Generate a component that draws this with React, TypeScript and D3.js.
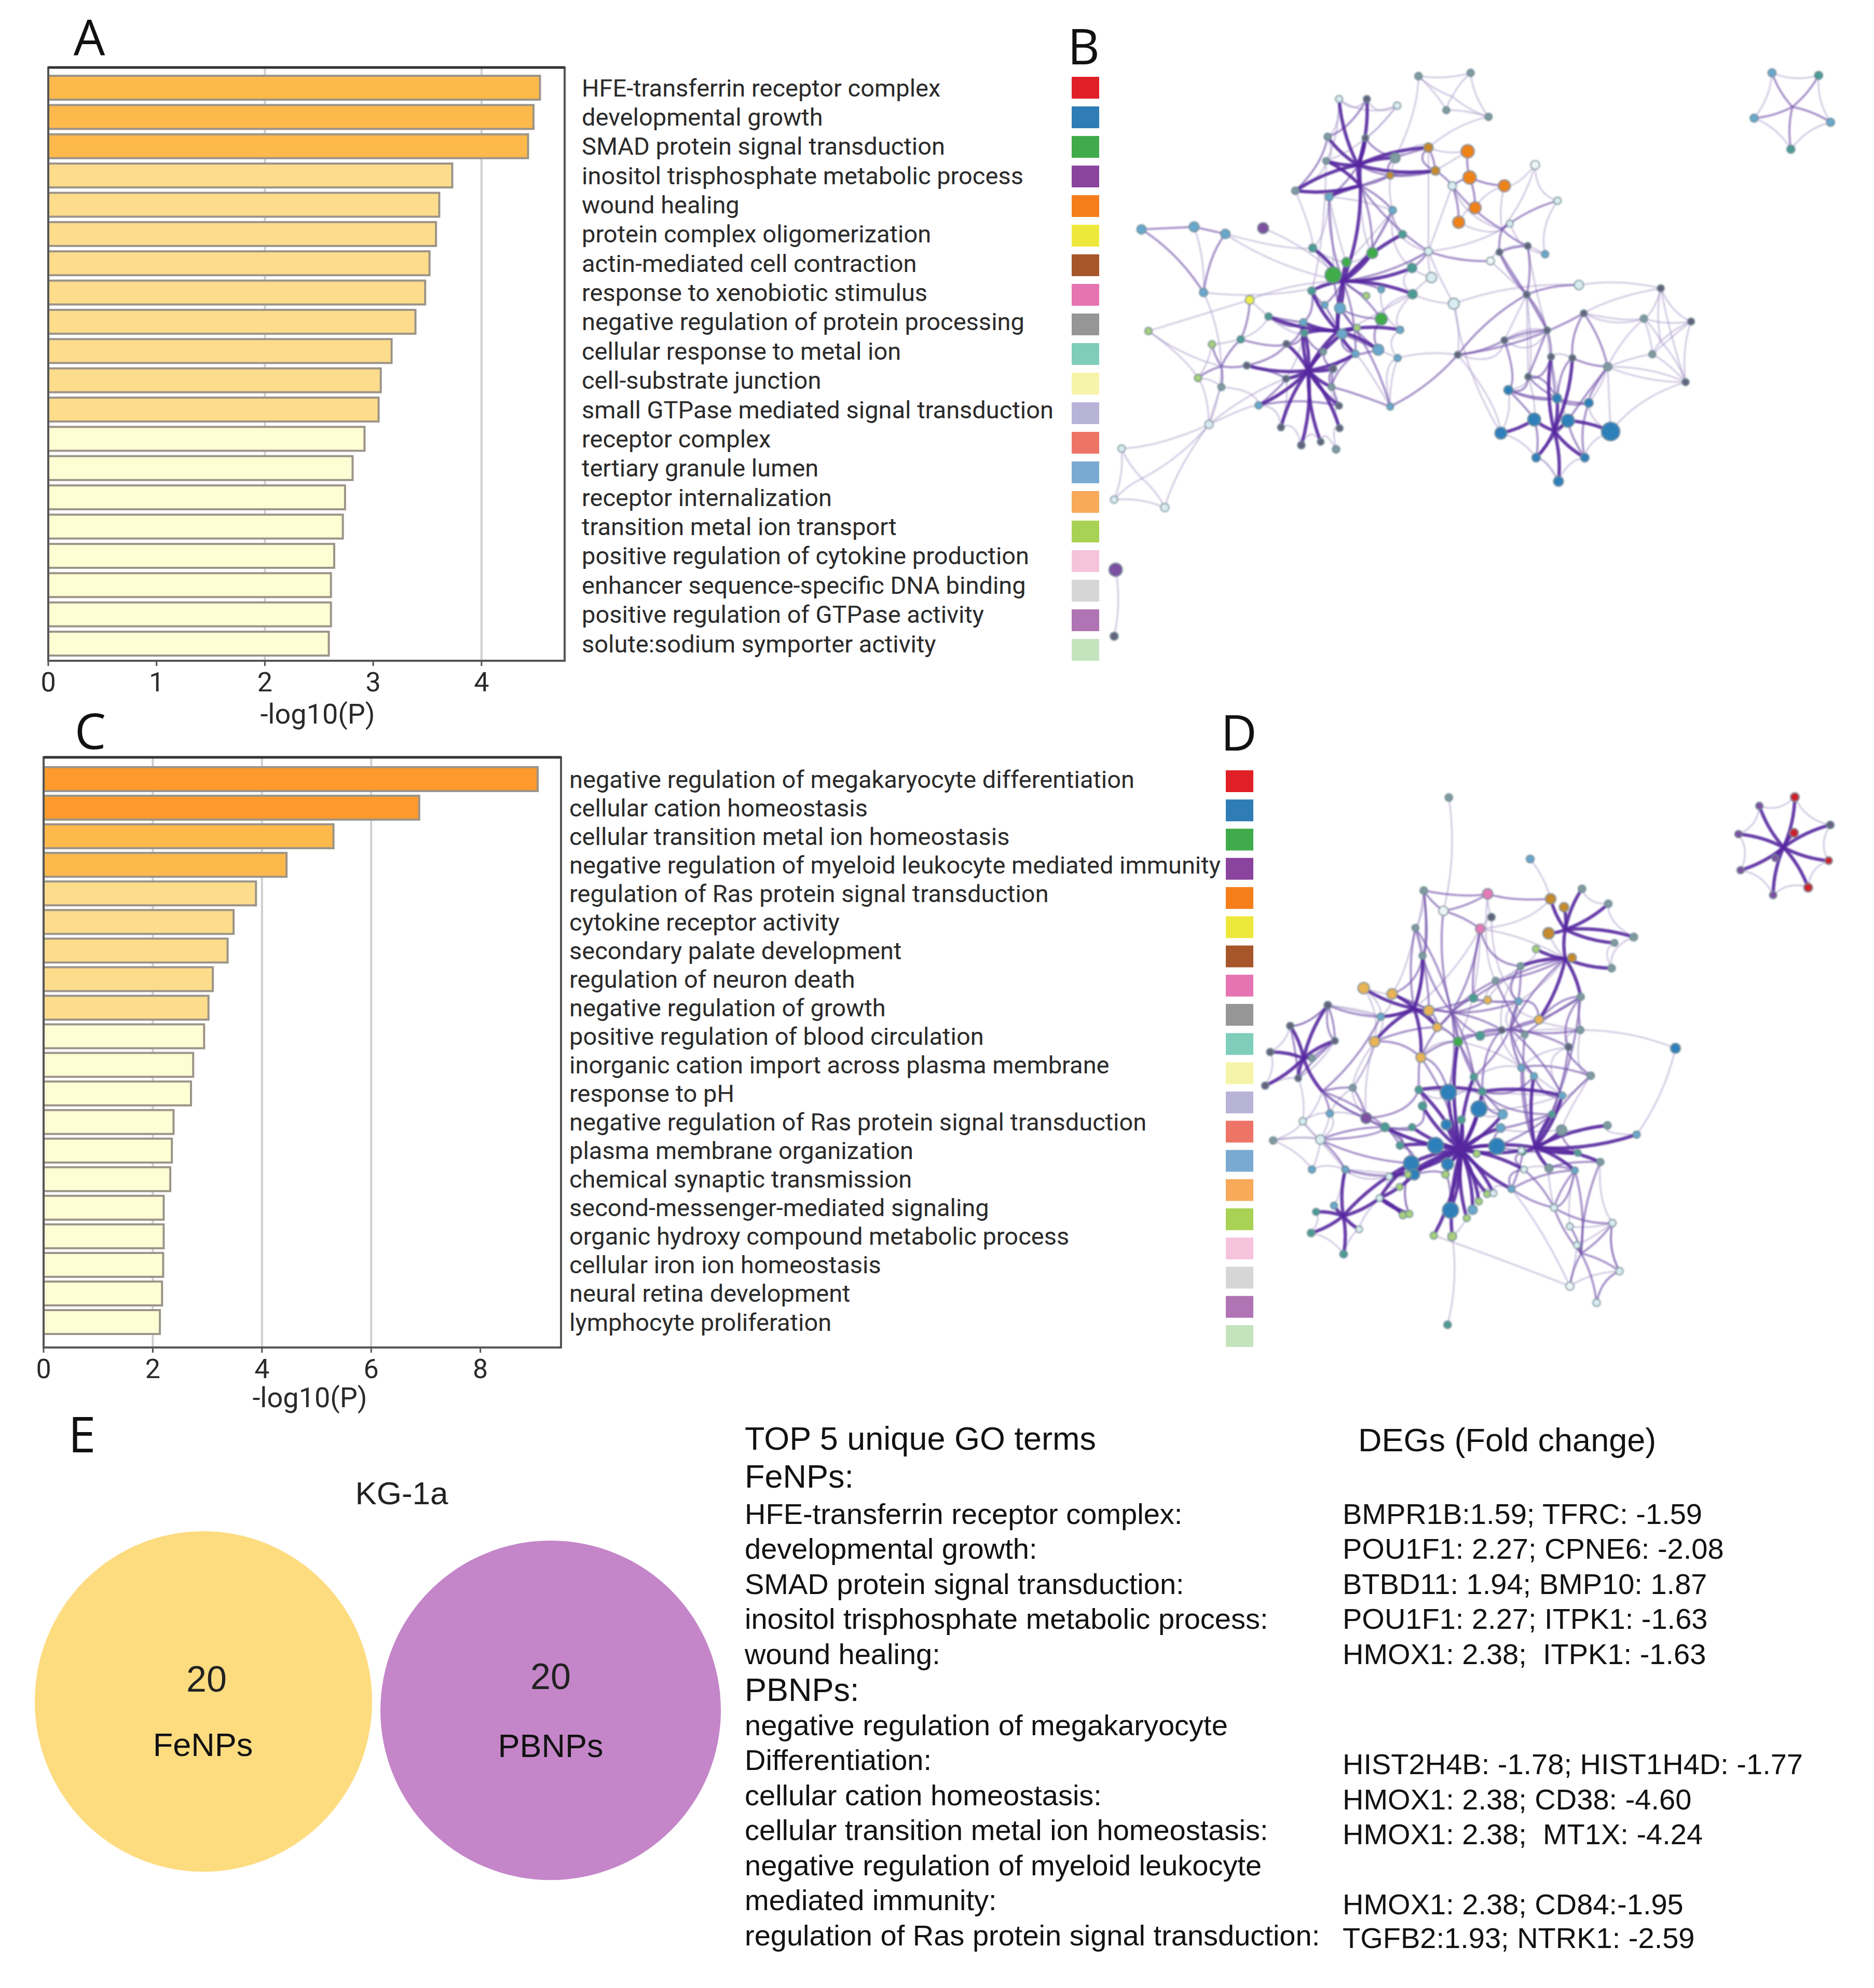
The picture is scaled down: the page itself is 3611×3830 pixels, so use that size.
import React from 'react';
import * as d3 from 'd3';

// panel A
const termsA = ['HFE-transferrin receptor complex', 'developmental growth', 'SMAD protein signal transduction', 'inositol trisphosphate metabolic process', 'wound healing', 'protein complex oligomerization', 'actin-mediated cell contraction', 'response to xenobiotic stimulus', 'negative regulation of protein processing', 'cellular response to metal ion', 'cell-substrate junction', 'small GTPase mediated signal transduction', 'receptor complex', 'tertiary granule lumen', 'receptor internalization', 'transition metal ion transport', 'positive regulation of cytokine production', 'enhancer sequence-specific DNA binding', 'positive regulation of GTPase activity', 'solute:sodium symporter activity'];
const valuesA = [4.54, 4.48, 4.43, 3.73, 3.61, 3.58, 3.52, 3.48, 3.39, 3.17, 3.07, 3.05, 2.92, 2.81, 2.74, 2.72, 2.64, 2.61, 2.61, 2.59];
const ticksA = [0, 1, 2, 3, 4];
const gridA = [2, 4];

// panel C
const termsC = ['negative regulation of megakaryocyte differentiation', 'cellular cation homeostasis', 'cellular transition metal ion homeostasis', 'negative regulation of myeloid leukocyte mediated immunity', 'regulation of Ras protein signal transduction', 'cytokine receptor activity', 'secondary palate development', 'regulation of neuron death', 'negative regulation of growth', 'positive regulation of blood circulation', 'inorganic cation import across plasma membrane', 'response to pH', 'negative regulation of Ras protein signal transduction', 'plasma membrane organization', 'chemical synaptic transmission', 'second-messenger-mediated signaling', 'organic hydroxy compound metabolic process', 'cellular iron ion homeostasis', 'neural retina development', 'lymphocyte proliferation'];
const valuesC = [9.05, 6.88, 5.31, 4.45, 3.89, 3.48, 3.37, 3.1, 3.02, 2.94, 2.74, 2.7, 2.38, 2.35, 2.32, 2.2, 2.2, 2.19, 2.17, 2.13];
const ticksC = [0, 2, 4, 6, 8];
const gridC = [2, 4, 6];

const barColor = d3.scaleThreshold<number, string>().domain([3, 4, 6]).range(['#fefed4', '#fddc8c', '#fdb94b', '#fd9a2d']);
const legendColors = ['#e01f26', '#2f7cb6', '#3fab4a', '#8a449e', '#f57e1a', '#eee83c', '#a6562a', '#e673b2', '#969696', '#7fcdbb', '#f6f4a8', '#b8b4d8', '#ef7468', '#7aaad2', '#f8a95a', '#a8d254', '#f6c3dc', '#d6d6d6', '#b074b4', '#c4e4bd'];

// node colours of the two networks
const nc: Record<string, string> = {
  r: '#c8202f', b: '#2f80bb', lb: '#69a8cc', g: '#3fab4a', p: '#7d4fa0', o: '#ee8312', ol: '#c58a2c', go: '#e8b457', y: '#eef04a', pk: '#e47ab8',
  d: '#63637e', t: '#4b9c94', pl: '#d9ecf2', w: '#eef6f6', gy: '#7f9aa0', lg: '#a8d07c',
};

type NodeRow = [string, number, number, number, string];
// id, layout x, layout y, size (0 = junction only), colour key
const nodesB: NodeRow[] = [
  ['p0', 1415, 195, 0, 'd'], ['p1', 1374, 113, 1.5, 'lb'], ['p2', 1468, 119, 1.5, 't'], ['p3', 1492, 232, 1.5, 'lb'], ['p4', 1412, 297, 1.5, 't'], ['p5', 1338, 222, 1.5, 'lb'],
  ['q1', 52, 1310, 3.5, 'p'], ['q2', 49, 1470, 1.5, 'd'],
  ['s0', 105, 1090, 0, 'd'], ['s1', 64, 1018, 1.2, 'pl'], ['s2', 49, 1141, 1.2, 'pl'], ['s3', 151, 1160, 1.6, 'pl'], ['s4', 240, 960, 1.6, 'pl'],
  ['t0', 540, 335, 0, 'd'], ['t00', 545, 385, 0, 'd'], ['t1', 502, 176, 1.1, 'pl'], ['t2', 558, 176, 1.1, 'd'], ['t3', 619, 192, 1.2, 'pl'], ['t4', 479, 267, 1.2, 'gy'], ['t5', 555, 270, 1, 'd'], ['t6', 476, 325, 1, 'gy'], ['t7', 414, 397, 1.3, 'gy'], ['t8', 482, 412, 1.4, 'lb'], ['t9', 610, 444, 1.3, 'lb'], ['t10', 615, 318, 2.2, 'gy'], ['t11', 605, 360, 1.2, 'ol'],
  ['u0', 730, 170, 0, 'd'], ['u1', 662, 121, 1.3, 'gy'], ['u2', 767, 113, 1.2, 'gy'], ['u3', 803, 219, 1.2, 'gy'], ['u4', 718, 203, 1.1, 'gy'],
  ['a1', 682, 293, 2, 'ol'], ['a2', 696, 349, 1.8, 'ol'],
  ['o1', 761, 302, 3.5, 'o'], ['o2', 765, 365, 3.5, 'o'], ['o3', 835, 385, 3, 'o'], ['o4', 776, 438, 3, 'o'], ['o5', 743, 473, 3, 'o'], ['o6', 730, 385, 1.6, 'pl'],
  ['r0', 830, 490, 0, 'd'], ['r1', 897, 335, 1.8, 'w'], ['r2', 942, 421, 1.2, 'pl'], ['r3', 917, 550, 1.2, 'lb'], ['r4', 846, 476, 1, 'pl'], ['r5', 807, 566, 1.4, 'w'], ['r6', 825, 545, 1, 'd'], ['r7', 882, 530, 1, 'd'],
  ['l1', 104, 490, 2, 'lb'], ['l2', 210, 484, 2.2, 'lb'], ['l3', 273, 501, 2, 'lb'], ['l4', 229, 642, 1.6, 'lb'], ['n1', 349, 487, 2.6, 'p'],
  ['g0', 510, 615, 0, 'd'], ['g1', 490, 600, 4.6, 'g'], ['g2', 569, 547, 2.6, 'g'], ['g3', 517, 569, 2, 'g'], ['g4', 449, 535, 1.5, 't'], ['g5', 630, 502, 1.4, 't'], ['g6', 649, 583, 2, 't'], ['g7', 650, 646, 2, 't'], ['g8', 587, 706, 3, 'g'], ['g9', 447, 638, 1.4, 't'], ['g10', 557, 650, 1, 'lg'],
  ['m0', 440, 830, 0, 'd'], ['m00', 500, 735, 0, 'd'], ['w0', 265, 820, 0, 'd'],
  ['m1', 504, 680, 2.6, 'lb'], ['m2', 508, 742, 2.2, 'lb'], ['m3', 581, 780, 2.6, 'lb'], ['m4', 430, 714, 1.2, 'lb'], ['m5', 360, 700, 1.2, 't'], ['y1', 322, 660, 1.8, 'y'], ['m6', 304, 755, 1.2, 't'], ['m7', 246, 767, 1.2, 'lg'], ['m8', 118, 735, 1.2, 'lg'], ['m9', 218, 848, 1.2, 'lg'], ['m10', 265, 870, 1.1, 'gy'], ['m11', 316, 818, 1.1, 'd'], ['m12', 396, 766, 1, 'd'], ['m13', 432, 740, 1.1, 't'], ['m14', 470, 785, 1, 'gy'], ['m15', 490, 826, 1.2, 'd'], ['m16', 395, 850, 1, 'd'], ['m17', 487, 870, 1, 'gy'], ['m18', 502, 915, 1, 'd'], ['m19', 503, 969, 1.1, 'd'], ['m20', 496, 1020, 1.3, 'gy'], ['m21', 465, 1002, 1, 'd'], ['m22', 426, 1010, 1.3, 'd'], ['m23', 385, 967, 1.1, 'd'], ['m24', 340, 914, 1.2, 'lb'], ['m25', 605, 917, 1.1, 'lb'], ['m26', 620, 800, 1.1, 'lb'], ['m27', 535, 790, 1.2, 'lb'], ['m28', 625, 732, 1.2, 'lb'], ['m29', 538, 727, 1, 'lg'], ['m30', 473, 672, 1, 'lb'], ['m31', 587, 635, 1, 'lb'],
  ['k1', 682, 543, 1.5, 'pl'], ['k2', 688, 606, 2.4, 'pl'], ['k3', 733, 669, 2.6, 'pl'],
  ['h1', 985, 624, 2, 'pl'], ['h2', 880, 647, 1, 'd'], ['h3', 995, 692, 1, 'd'], ['h4', 921, 733, 1, 'd'], ['h5', 835, 757, 1, 'd'], ['h6', 741, 792, 1, 'd'], ['h7', 929, 797, 1, 'd'], ['h8', 972, 800, 1, 'd'], ['h9', 883, 845, 1, 'd'], ['h10', 1043, 821, 1.6, 'gy'],
  ['h0', 1150, 760, 0, 'd'], ['h11', 1150, 632, 1.1, 'd'], ['h12', 1116, 705, 1.2, 'gy'], ['h13', 1211, 712, 1.1, 'd'], ['h14', 1133, 791, 1.1, 'gy'], ['h15', 1200, 858, 1.1, 'd'],
  ['b0', 935, 975, 0, 'd'], ['b1', 843, 877, 1.9, 'b'], ['b2', 941, 897, 1.9, 'b'], ['b3', 1005, 908, 1.8, 'b'], ['b4', 895, 948, 3.4, 'b'], ['b5', 963, 951, 3.4, 'b'], ['b6', 828, 981, 3, 'b'], ['b7', 1049, 977, 5.5, 'b'], ['b8', 899, 1040, 1.7, 'b'], ['b9', 997, 1040, 1.7, 'b'], ['b10', 944, 1097, 2.2, 'b'],
];
// hub, spokes, rim path, spoke weight, rim weight
type GroupRow = [string, string, string, number, number];
const groupsB: GroupRow[] = [
  ['p0', 'p1 p2 p3 p4 p5', 'p1 p2 p3 p4 p5 p1', 2, 1],
  ['q1', 'q2', '', 1, 1],
  ['s0', 's1 s2 s3 s4', 's1 s2 s3 s4 s1', 1, 1],
  ['t0', 't1 t2 t4 t5 t6 t7 t10 t00', 't1 t2 t3', 3, 1],
  ['t00', 't7 t8 t5 t6 g0', 't4 t6 t7 t8 t9 t10', 3, 1],
  ['t0', 'a1 a2', 't4 t1 t3 t5', 3, 1],
  ['t00', 't9 t11 g2 k1', 't9 g5', 2, 1],
  ['u0', 'u1 u3 u2 u4', 'u1 u2 u3 u4 u1', 1, 1],
  ['u0', '', 'u1 t10 a1 u3', 1, 1],
  ['o2', 'o1 o3 o4', 'o3 o4 o5', 2, 1],
  ['a2', 'o6 a1 t11', 'a1 o1 a2', 2, 1],
  ['o6', 'o5 r0 o2', '', 2, 1],
  ['r0', 'r2 r6 r4 r7', 'r1 r2 r3 r7 r6 r5', 2, 1],
  ['r0', 'o3 r1 k1', 'r1 o3', 1, 1],
  ['r6', 'r7 h2', 'r3 r7', 2, 1],
  ['l2', 'l4', 'l1 l2 l3 l4 l1', 1, 2],
  ['g0', 'l3 n1 l4 y1', '', 1, 1],
  ['g0', 'g1 g2 g3 g4 g5 g6 g7 g9 m1 m00', 'g4 g3 g2 g5', 3, 1],
  ['g0', 'g8 g10 m31 k1 m30', 'g6 g7 g8', 2, 1],
  ['m00', 'm1 m2 m4 m13 m28 m29 m3 m0 m5 m27 g9', 'm28 m26 m3', 3, 1],
  ['m0', 'm11 m12 m14 m15 m16 m18 m19 m21 m22 m23 m24 m17', 'm22 m21 m20 m19 m18 m17', 3, 1],
  ['m1', 'm25 m3', 'm27 m25 m26', 2, 1],
  ['w0', 'm7 m9 m10 m11 m6', 'm7 m9 m10', 2, 1],
  ['y1', 'm6', 'm8 y1 m5', 2, 1],
  ['w0', 'm8 l4 s4', 'm8 m9 s4 m10', 1, 1],
  ['m0', 'm24 s4', 's4 m24', 1, 1],
  ['h6', 'm25 h3 h2 h5', 'h5 h4', 2, 1],
  ['h2', 'h1 r7 h4', 'h9 h2', 2, 1],
  ['h4', 'h7 h5', 'h7 h8', 2, 1],
  ['h1', 'h11 k3', 'h11 h3', 1, 1],
  ['k2', 'g6 g7 k1', 'k1 k3', 1, 1],
  ['k3', 'h6 b6 g7', '', 1, 1],
  ['k1', 'g6 r5', '', 2, 1],
  ['b0', 'b4 b5 b8 b9 b10 b2 h7 h8', 'b8 b10 b9 b7 b3', 3, 1],
  ['b4', 'b6', 'b1 b6 b8 b10', 3, 1],
  ['b5', 'b7', '', 3, 1],
  ['b2', 'b1 b3 h9', 'b1 h9', 2, 1],
  ['h10', 'h8 h3', 'h10 b7 h15', 2, 1],
  ['h0', 'h11 h12 h13 h14 h15', 'h11 h13 h15 h14 h12 h11', 1, 1],
  ['h10', 'h12 h15 b3', 'h3 h12', 1, 1],
  ['m26', 'h6 m25', '', 1, 1],
  // cross links of the dense parts
  ['t0', '', 't5 t10 a1 a2 t11 t10', 1, 2],
  ['t0', '', 't2 t4 t7', 1, 2],
  ['t0', '', 't3 t5 t6 t1', 1, 1],
  ['t00', '', 't8 t00 t11 a2', 1, 2],
  ['g0', '', 't7 g4 g1 t8 g3 t9 g2 t00', 1, 1],
  ['g0', '', 't9 g6 k1 t9', 1, 1],
  ['g0', '', 't8 g4 l3', 1, 1],
  ['g0', '', 't6 g9', 1, 1],
  ['k1', '', 'a1 k1 o6 r0', 1, 1],
  ['m00', '', 'g1 m1 g8 m3 m2 m30 g9 m4 m5', 1, 2],
  ['m00', '', 'm31 m28 g7 m2', 1, 1],
  ['m0', '', 'm5 m4 m12 m13 m14 m2 m27 m15 m17', 1, 2],
  ['m0', '', 'm6 m12 m11 m16 m24 m18 m15 m14', 1, 2],
  ['m0', '', 'm7 m5 m13 m16 m23 m22', 1, 1],
  ['m0', '', 'm10 m24 m23', 1, 1],
  ['m0', '', 'm3 m27 m17 m25', 1, 2],
  ['m0', 'm2 m13 m4 m27', '', 3, 1],
  ['t0', 't8 t11', '', 2, 1],
  ['g0', 't8 t9 m27', '', 2, 1],
  ['h2', '', 'o5 r4 r7 h4 h5 h2 r5', 1, 1],
  ['h4', '', 'r6 h2 h4 h9 b2 h8 h3', 1, 2],
  ['b0', '', 'h5 b1 h9 h7 b2 b3 h10 b5', 1, 2],
  ['b0', '', 'b6 h6 h5 h4 h7 b5', 1, 1],
  ['b0', '', 'b3 b9 b5 b8 b4 b1 b2', 1, 2],
  ['h0', '', 'h3 h12 h13 h14 h10 h15 h11', 1, 1],
  ['b0', '', 'h2 h9 b4', 1, 1],
];

const nodesD: NodeRow[] = [
  ['e0', 1355, 292, 0, 'd'], ['e1', 1297, 192, 1.2, 'p'], ['e2', 1382, 171, 1.8, 'r'], ['e3', 1467, 238, 1.3, 'd'], ['e4', 1463, 324, 1.3, 'r'], ['e5', 1414, 389, 1.8, 'r'], ['e6', 1330, 407, 1.2, 'p'], ['e7', 1252, 347, 1.2, 'p'], ['e8', 1247, 260, 1.2, 'p'], ['e9', 1380, 257, 1.8, 'r'], ['e10', 1335, 318, 1, 'p'],
  ['d1', 553, 172, 1.3, 'gy'], ['d2', 748, 320, 1.4, 'lb'], ['d3', 493, 396, 1.3, 'gy'], ['d4', 646, 404, 2.4, 'pk'], ['d5', 540, 445, 2, 'w'], ['d6', 655, 460, 1.3, 'd'], ['d7', 628, 488, 2, 'pk'], ['d8', 473, 486, 1.1, 'gy'],
  ['x0', 832, 490, 0, 'd'], ['x1', 832, 560, 0, 'd'], ['x2', 797, 416, 2.4, 'ol'], ['x3', 829, 436, 2, 'ol'], ['x4', 872, 392, 1.3, 'gy'], ['x5', 935, 428, 1.3, 'gy'], ['x6', 996, 508, 1.4, 'gy'], ['x7', 950, 522, 1, 'gy'], ['x8', 943, 583, 1.3, 'gy'], ['x9', 792, 499, 2.8, 'ol'], ['x10', 762, 537, 1.2, 'lg'], ['x11', 848, 558, 1.8, 'ol'], ['x12', 869, 652, 1.2, 'gy'], ['x13', 725, 578, 1.1, 'gy'], ['x14', 665, 613, 1, 'gy'], ['x15', 490, 553, 1.1, 'gy'],
  ['c1', 349, 631, 2.8, 'go'], ['c2', 417, 645, 2.4, 'go'], ['c3', 390, 700, 1.2, 'lb'], ['c4', 505, 685, 2.4, 'go'], ['c5', 525, 725, 1.8, 'go'], ['c6', 375, 760, 2.4, 'go'], ['c7', 486, 798, 2.2, 'go'], ['c8', 575, 760, 2, 'g'], ['c9', 628, 746, 1.8, 't'], ['c10', 612, 655, 1.6, 't'], ['c11', 646, 660, 1.4, 'go'], ['c12', 720, 663, 1.1, 'lb'], ['c13', 769, 707, 1.8, 'go'], ['c14', 680, 732, 1, 'd'], ['c15', 735, 743, 1, 'gy'], ['c16', 868, 732, 1.2, 'gy'], ['c17', 840, 773, 1.2, 'd'], ['c18', 1096, 776, 2.2, 'b'], ['c19', 727, 823, 1.2, 'lb'], ['c00', 560, 690, 0, 'd'], ['c01', 700, 730, 0, 'd'], ['c02', 470, 680, 0, 'd'],
  ['v0', 760, 1015, 0, 'd'], ['v1', 893, 842, 1.3, 'gy'], ['v2', 757, 843, 1.1, 'lb'], ['v3', 825, 890, 1.1, 'lb'], ['v4', 800, 935, 1, 't'], ['v5', 823, 973, 2.4, 'gy'], ['v6', 933, 962, 1.3, 'gy'], ['v7', 1003, 984, 1.2, 'lb'], ['v8', 916, 1050, 1.2, 'gy'], ['v9', 862, 1028, 1, 't'], ['v10', 855, 1070, 1, 'lb'], ['v11', 793, 1065, 1.6, 'gy'], ['v12', 730, 1025, 1.2, 't'],
  ['f0', 205, 800, 0, 'd'], ['f00', 250, 880, 0, 'd'], ['f1', 263, 672, 1.3, 'd'], ['f2', 173, 722, 1.2, 'd'], ['f3', 280, 758, 1, 'd'], ['f4', 125, 785, 1.2, 'd'], ['f5', 225, 800, 1, 'gy'], ['f6', 192, 848, 1, 'd'], ['f7', 113, 866, 1.2, 'd'], ['f8', 323, 871, 1.1, 'gy'], ['f9', 355, 944, 2.6, 'p'], ['f10', 203, 952, 1.2, 'pl'], ['f11', 268, 933, 1.2, 'lb'], ['f12', 132, 998, 1.2, 'gy'], ['f13', 245, 996, 2, 'pl'], ['f14', 225, 1068, 1.2, 'lb'], ['f15', 400, 966, 1.8, 't'], ['f16', 436, 1010, 1.3, 't'], ['f17', 465, 966, 1.1, 't'], ['f18', 305, 1068, 1.1, 'lb'],
  ['z0', 582, 1020, 0, 'd'], ['z1', 552, 882, 4.6, 'b'], ['z2', 625, 922, 4.6, 'b'], ['z3', 547, 960, 2.4, 'b'], ['z4', 521, 1010, 4.6, 'b'], ['z5', 668, 1012, 4.6, 'b'], ['z6', 463, 1053, 4.4, 'b'], ['z7', 550, 1055, 3, 'b'], ['z8', 470, 1080, 2.6, 'b'], ['z9', 557, 1166, 4.6, 'b'], ['z10', 682, 935, 2, 'lb'], ['z11', 677, 968, 1.8, 'lb'], ['z12', 481, 876, 1.3, 't'], ['z13', 490, 915, 1.6, 't'], ['z14', 633, 880, 1.3, 't'], ['z15', 613, 845, 1.2, 't'], ['z16', 583, 948, 1.4, 't'], ['z17', 620, 1030, 1.1, 'lg'], ['z18', 545, 1080, 1.3, 'lg'], ['z19', 610, 1165, 2, 'lb'], ['z20', 596, 1185, 1.1, 'lg'], ['z21', 625, 1145, 1.1, 'lg'], ['z22', 645, 1127, 1.1, 'lg'], ['z23', 660, 1125, 1, 'pl'], ['z24', 703, 1115, 1.1, 'lb'], ['z25', 733, 1068, 1, 'pl'], ['z26', 727, 1022, 1, 'pl'], ['z27', 517, 1227, 1.2, 'lg'], ['z28', 561, 1229, 1.8, 'lg'], ['z29', 550, 1442, 1.3, 't'],
  ['i0', 300, 1180, 0, 'd'], ['i1', 410, 1085, 1, 'pl'], ['i2', 435, 1110, 1, 'lg'], ['i3', 455, 1080, 1, 'lg'], ['i4', 387, 1137, 1, 'pl'], ['i5', 443, 1178, 1.2, 'lg'], ['i6', 458, 1175, 1.2, 'lg'], ['i7', 278, 1155, 1.1, 'lb'], ['i8', 235, 1170, 1.1, 't'], ['i9', 223, 1221, 1.3, 't'], ['i10', 338, 1212, 1, 'pl'], ['i11', 301, 1272, 1.3, 't'], ['i12', 305, 1068, 1, 'lb'],
  ['j0', 870, 1270, 0, 'd'], ['j1', 805, 1160, 1.1, 'pl'], ['j2', 843, 1205, 1, 'pl'], ['j3', 860, 1250, 1, 'pl'], ['j4', 945, 1197, 1.2, 'pl'], ['j5', 962, 1313, 1.2, 'pl'], ['j6', 843, 1349, 1.5, 'w'], ['j7', 907, 1389, 1.3, 'pl'],
];
const groupsD: GroupRow[] = [
  ['e0', 'e1 e2 e3 e4 e5 e6 e7 e8 e9 e10', 'e1 e2 e3 e4 e5 e6 e7 e8 e1', 3, 1],
  ['d1', 'd5', '', 1, 1],
  ['d2', 'x2', '', 1, 1],
  ['d5', 'd3 d4 d7 c00', 'd3 d8', 2, 1],
  ['d6', 'd4 d7', 'd3 d4 x2', 1, 2],
  ['x0', 'x2 x3 x4 x5 x6 x7 x9 x1', 'x4 x5 x6 x8 x7', 3, 1],
  ['x1', 'x10 x11 x12 x13 c13 x8', 'x10 x13 x14', 3, 1],
  ['x1', 'x9 d7 c12', 'd7 x2', 1, 1],
  ['c00', 'x15 d7 x14 c4 c8 c9 c10 c11 z1', 'c10 c11 c12 c01', 2, 1],
  ['c00', 'z15 z14 c14 d8', 'x15 d8', 2, 1],
  ['c02', 'c1 c2 c3 c4 c5 c6 c7 x15', 'c1 c2 c3 c6', 3, 1],
  ['c02', 'c8 d7', 'c7 c8', 1, 1],
  ['c01', 'c13 c14 c15 c16 c17 c19 c12 x13', 'c16 c17 c19', 2, 1],
  ['c01', 'c9 v2 v3 x12', 'c14 c9', 2, 1],
  ['c16', 'c18', '', 1, 1],
  ['c18', 'v7', '', 1, 1],
  ['v0', 'v2 v3 v4 v5 v6 v7 v8 v9 v10 v11 v12 z0', 'v3 v1 v5 v6 v7', 3, 1],
  ['v0', 'c19 c17 c15', 'c16 v1', 2, 1],
  ['z0', 'z1 z2 z3 z4 z5 z6 z7 z8 z9 z10 z11 z12 z13 z14 z15 z16 z17 z18 z19 z20 z21 z22 z23 z24 z25 z26 f15 f16 f17', 'z12 z1 z15 z14', 3, 1],
  ['z0', 'z27 z28 i1 i3 c8', 'z24 z23 z22 z21 z19', 3, 1],
  ['z14', 'v3 z12', 'z12 v3', 3, 1],
  ['z28', 'z29 z20', 'z27 j6', 1, 1],
  ['j0', 'j1 j2 j3 j4 j5 j6 j7', 'j4 j5 j6 j3 j4', 2, 1],
  ['j1', 'z24 z25 v10', 'z24 j6', 2, 1],
  ['j2', 'v10 j4', 'j4 v8', 1, 1],
  ['f0', 'f1 f2 f3 f4 f5 f6 f7 f00', 'f1 f2 f4 f7 f6', 3, 1],
  ['f1', 'f3 c3', 'f1 c3', 2, 1],
  ['f00', 'f8 f9 f11', 'f8 f9 f11', 2, 1],
  ['f15', 'f9 f13 f16 f17', 'f13 f11', 2, 1],
  ['f9', 'f00 f8', 'f12 f13', 2, 1],
  ['f13', 'f10 f12 f14 f11', 'f10 f12 f14', 1, 1],
  ['f13', 'f18 z6', 'f14 f18', 2, 1],
  ['i0', 'i7 i8 i9 i10 i11 i4 i12', 'i8 i9 i11 i10 i7', 3, 1],
  ['i4', 'z6 z8 i5 i6', 'i5 i6 i3 i1', 3, 1],
  ['i12', 'f18 i1', 'i12 i3', 1, 1],
  ['c6', 'f8 f9', '', 1, 1],
  // cross links of the dense parts
  ['c00', '', 'd3 x15 c2 c4 c10 d7 x13 c12 c10', 1, 2],
  ['c00', '', 'd8 c4 c5 c8 c9 c14 z14 c8 c7 z1', 1, 2],
  ['c00', '', 'd4 x14 c11 x13 c14 c19', 1, 1],
  ['c00', '', 'd6 c12 c13 c16 c15 c19 v3 c17', 1, 1],
  ['c01', '', 'x14 c15 x12 c17 v1 c19 v2', 1, 2],
  ['c01', '', 'd7 c8 c19 z15', 1, 1],
  ['x1', '', 'c12 c13 x12 c16', 1, 2],
  ['c02', '', 'c3 c4 c5 c6 c7 z12', 1, 2],
  ['c02', '', 'c2 d8 d3', 1, 1],
  ['c02', '', 'f1 c3 c1 c6 f8', 1, 1],
  ['z0', '', 'f9 z12 z13 f17 f15 z6', 1, 2],
  ['z0', '', 'f13 f15 f16 z6 z8 z18 z9', 1, 2],
  ['z0', '', 'z10 z14 v4 z11 z5 z26 v12 z25 z24', 1, 2],
  ['z0', '', 'v3 z2 z10 z11 v5', 1, 1],
  ['v0', '', 'z5 v4 v3 v2 z14 z10', 1, 2],
  ['v0', '', 'v8 v11 v10 z24 v12 v9 v5', 1, 2],
  ['v0', '', 'j1 v11 z25', 1, 1],
  ['j0', '', 'v10 j1 j4 j5 j7', 1, 2],
  ['i0', '', 'i10 i4 i2 i1 i12 i7', 1, 1],
  ['i4', '', 'f18 i12 i3 i6 i4', 1, 2],
  ['f0', '', 'f5 f3 f1 f2 f6 f3', 1, 2],
  ['f00', '', 'f3 f6 f10 f11 f8 c6', 1, 1],
  ['f13', '', 'f00 f10 f18 i12', 1, 1],
  ['c00', 'c5 c7 c2 c12', '', 2, 1],
  ['c01', 'x1 c8 z15', '', 2, 1],
  ['x1', 'x14 c10', '', 2, 1],
  ['c02', 'd8 d3', '', 2, 1],
  ['f00', 'f15 c3', '', 2, 1],
  ['z0', 'f9 c7 c8', '', 2, 1],
  ['i0', 'z6', '', 3, 1],
  ['v0', 'v1 x12', '', 2, 1],
  ['j0', 'v8 v10', '', 2, 1],
];

// table of panel E
const leftRows = ['TOP 5 unique GO terms', 'FeNPs:', 'HFE-transferrin receptor complex:', 'developmental growth:', 'SMAD protein signal transduction:', 'inositol trisphosphate metabolic process:', 'wound healing:', 'PBNPs:', 'negative regulation of megakaryocyte', 'Differentiation:', 'cellular cation homeostasis:', 'cellular transition metal ion homeostasis:', 'negative regulation of myeloid leukocyte', 'mediated immunity:', 'regulation of Ras protein signal transduction:'];
const degRows = ['', '', 'BMPR1B:1.59; TFRC: -1.59', 'POU1F1: 2.27; CPNE6: -2.08', 'BTBD11: 1.94; BMP10: 1.87', 'POU1F1: 2.27; ITPK1: -1.63', 'HMOX1: 2.38;  ITPK1: -1.63', '', '', 'HIST2H4B: -1.78; HIST1H4D: -1.77', 'HMOX1: 2.38; CD38: -4.60', 'HMOX1: 2.38;  MT1X: -4.24', '', 'HMOX1: 2.38; CD84:-1.95', 'TGFB2:1.93; NTRK1: -2.59'];
const biggerRows = [0, 1, 7];
const vennCounts = [20, 20];
const vennNames = ['FeNPs', 'PBNPs'];

const LABEL_FONT = 'Roboto, sans-serif';
const ARIAL = '"Liberation Sans", Arial, sans-serif';

function Narrow({ x, y, text, size = 47, sx = 1, anchor = 'start' }: { x: number; y: number; text: string; size?: number; sx?: number; anchor?: string }) {
  return (
    <text transform={`translate(${x},${y}) scale(${sx},1)`} fontFamily={LABEL_FONT} fontSize={size} fill="#2a2a2a" textAnchor={anchor} dominantBaseline="central">
      {text}
    </text>
  );
}

function BarPanel({ terms, values, ticks, grid, left, right, top, bottom, unit, firstY, lastY, labelX, tickY, titleX, titleY }: any) {
  const x = d3.scaleLinear().domain([0, 1]).range([left, left + unit]);
  const y = d3.scalePoint<number>().domain(d3.range(terms.length)).range([firstY, lastY]);
  const bh = 46;
  return (
    <g>
      {grid.map((t: number) => <line key={t} x1={x(t)} x2={x(t)} y1={top} y2={bottom} stroke="#cfcfcf" strokeWidth={4} />)}
      {values.map((v: number, i: number) => (
        <rect key={i} x={left} y={y(i)! - bh / 2} width={x(v) - left} height={bh} fill={barColor(v)} stroke="#9c9488" strokeWidth={4} />
      ))}
      <rect x={left} y={top} width={right - left} height={bottom - top} fill="none" stroke="#555" strokeWidth={4} />
      <line x1={left} x2={right} y1={top} y2={top} stroke="#333" strokeWidth={5} />
      {ticks.map((t: number) => (
        <g key={t}>
          <line x1={x(t)} x2={x(t)} y1={bottom} y2={bottom + 10} stroke="#555" strokeWidth={3} />
          <Narrow x={x(t)} y={tickY} text={String(t)} anchor="middle" size={52} />
        </g>
      ))}
      <Narrow x={titleX} y={titleY} text="-log10(P)" anchor="middle" size={54} />
      {terms.map((t: string, i: number) => <Narrow key={t} x={labelX} y={y(i)!} text={t} />)}
    </g>
  );
}

function Legend({ x, w, firstY, lastY }: { x: number; w: number; firstY: number; lastY: number }) {
  const y = d3.scalePoint<number>().domain(d3.range(legendColors.length)).range([firstY, lastY]);
  return (
    <g>
      {legendColors.map((c, i) => <rect key={c} x={x} y={y(i)! - 21} width={w} height={42} fill={c} />)}
    </g>
  );
}

function Network({ nodes, groups, sx, sy }: { nodes: NodeRow[]; groups: GroupRow[]; sx: d3.ScaleLinear<number, number>; sy: d3.ScaleLinear<number, number> }) {
  const pos = new Map(nodes.map((n) => [n[0], [sx(n[1]), sy(n[2])]]));
  const size = d3.scaleLinear().domain([1, 6]).range([6.5, 19]);
  const edges: { d: string; w: number }[] = [];
  // bundled look: pull each edge towards the hub of its group
  const curve = (a: number[], b: number[], h: number[], pull: number, w: number) => {
    const p = d3.path();
    const mx = (a[0] + b[0]) / 2;
    const my = (a[1] + b[1]) / 2;
    p.moveTo(a[0], a[1]);
    p.quadraticCurveTo(mx + (h[0] - mx) * pull, my + (h[1] - my) * pull, b[0], b[1]);
    edges.push({ d: p.toString(), w });
  };
  groups.forEach(([hub, spokes, rim, ws, wr]) => {
    const h = pos.get(hub)!;
    const sp = spokes.split(' ').filter(Boolean);
    sp.forEach((id, i) => {
      const b = pos.get(id)!;
      const dx = b[0] - h[0];
      const dy = b[1] - h[1];
      const s = i % 2 ? 0.1 : -0.1;
      const off = [h[0] + dx * 0.5 - dy * s * 2, h[1] + dy * 0.5 + dx * s * 2];
      curve(h, b, off, 0.5, ws);
    });
    const r = rim.split(' ').filter(Boolean);
    d3.pairs(r).forEach(([a, b]) => curve(pos.get(a)!, pos.get(b)!, h, 0.25, wr));
  });
  const stroke = ['', '#a08fc4', '#7554ac', '#5628a0'];
  const width = [0, 3, 4, 6.5];
  const opacity = [0, 0.5, 0.65, 0.9];
  const ordered = edges.slice().sort((a, b) => a.w - b.w);
  return (
    <g filter="url(#soft)">
      {ordered.map((e, i) => <path key={i} d={e.d} fill="none" stroke={stroke[e.w]} strokeWidth={width[e.w]} strokeOpacity={opacity[e.w]} />)}
      {nodes.filter((n) => n[3] > 0).map((n) => (
        <circle key={n[0]} cx={sx(n[1])} cy={sy(n[2])} r={size(n[3])} fill={nc[n[4]]} stroke="#6f8a92" strokeOpacity={0.8} strokeWidth={2.5} />
      ))}
    </g>
  );
}

export default function App() {
  const bx = d3.scaleLinear().domain([0, 1568]).range([2100, 3600]);
  const by = d3.scaleLinear().domain([0, 1568]).range([50, 1304]);
  const dx = d3.scaleLinear().domain([0, 1568]).range([2347, 3608]);
  const dy = d3.scaleLinear().domain([0, 1568]).range([1399, 2653]);
  const rowY = d3.scaleLinear().domain([0, 2, 6, 8, 14]).range([2771, 2916, 3186, 3323, 3728]);
  const degShift = (i: number) => (i === 14 ? 5 : i > 8 ? 8 : 0);
  const letters: [string, number, number][] = [['A', 172, 69], ['B', 2088, 86], ['C', 174, 1405], ['D', 2387, 1408], ['E', 158, 2760]];
  return (
    <svg width={3611} height={3830} viewBox="0 0 3611 3830" style={{ position: 'absolute', left: 0, top: 0, background: '#fff' }}>
      <defs>
        <filter id="soft" x="-5%" y="-5%" width="110%" height="110%"><feGaussianBlur stdDeviation={1.4} /></filter>
      </defs>
      <BarPanel terms={termsA} values={valuesA} ticks={ticksA} grid={gridA} left={93} right={1088} top={130} bottom={1273} unit={208.7} firstY={169} lastY={1240} labelX={1121} tickY={1314} titleX={612} titleY={1375} />
      <BarPanel terms={termsC} values={valuesC} ticks={ticksC} grid={gridC} left={84} right={1081} top={1459} bottom={2596} unit={105.2} firstY={1501} lastY={2547} labelX={1097} tickY={2637} titleX={597} titleY={2692} />
      <Legend x={2065} w={53} firstY={169} lastY={1252} />
      <Legend x={2362} w={53} firstY={1505} lastY={2574} />
      <Network nodes={nodesB} groups={groupsB} sx={bx} sy={by} />
      <Network nodes={nodesD} groups={groupsD} sx={dx} sy={dy} />
      {letters.map(([t, x, y]) => <text key={t} x={x} y={y} fontFamily='"Open Sans", sans-serif' fontSize={96} fill="#111" textAnchor="middle" dominantBaseline="central">{t}</text>)}
      <text x={774} y={2876} fontFamily={ARIAL} fontSize={62} fill="#222" textAnchor="middle" dominantBaseline="central">KG-1a</text>
      <ellipse cx={392} cy={3278} rx={325} ry={328} fill="#fddc80" />
      <ellipse cx={1061} cy={3295} rx={328} ry={327} fill="#c486c8" />
      {vennNames.map((name, i) => (
        <g key={name}>
          <text x={i ? 1061 : 398} y={i ? 3230 : 3235} fontFamily={ARIAL} fontSize={70} fill="#222" textAnchor="middle" dominantBaseline="central">{vennCounts[i]}</text>
          <text x={i ? 1061 : 391} y={i ? 3363 : 3361} fontFamily={ARIAL} fontSize={63} fill="#111" textAnchor="middle" dominantBaseline="central">{name}</text>
        </g>
      ))}
      {leftRows.map((t, i) => (
        <text key={t} x={1435} y={rowY(i)} fontFamily={ARIAL} fontSize={biggerRows.includes(i) ? 63 : 56} fill="#111" dominantBaseline="central">{t}</text>
      ))}
      <text x={2617} y={2774} fontFamily={ARIAL} fontSize={63} fill="#111" dominantBaseline="central">DEGs (Fold change)</text>
      {degRows.map((t, i) => t && (
        <text key={t} x={2587} y={rowY(i) + degShift(i)} fontFamily={ARIAL} fontSize={56} fill="#111" dominantBaseline="central" style={{ whiteSpace: 'pre' }}>{t}</text>
      ))}
    </svg>
  );
}
